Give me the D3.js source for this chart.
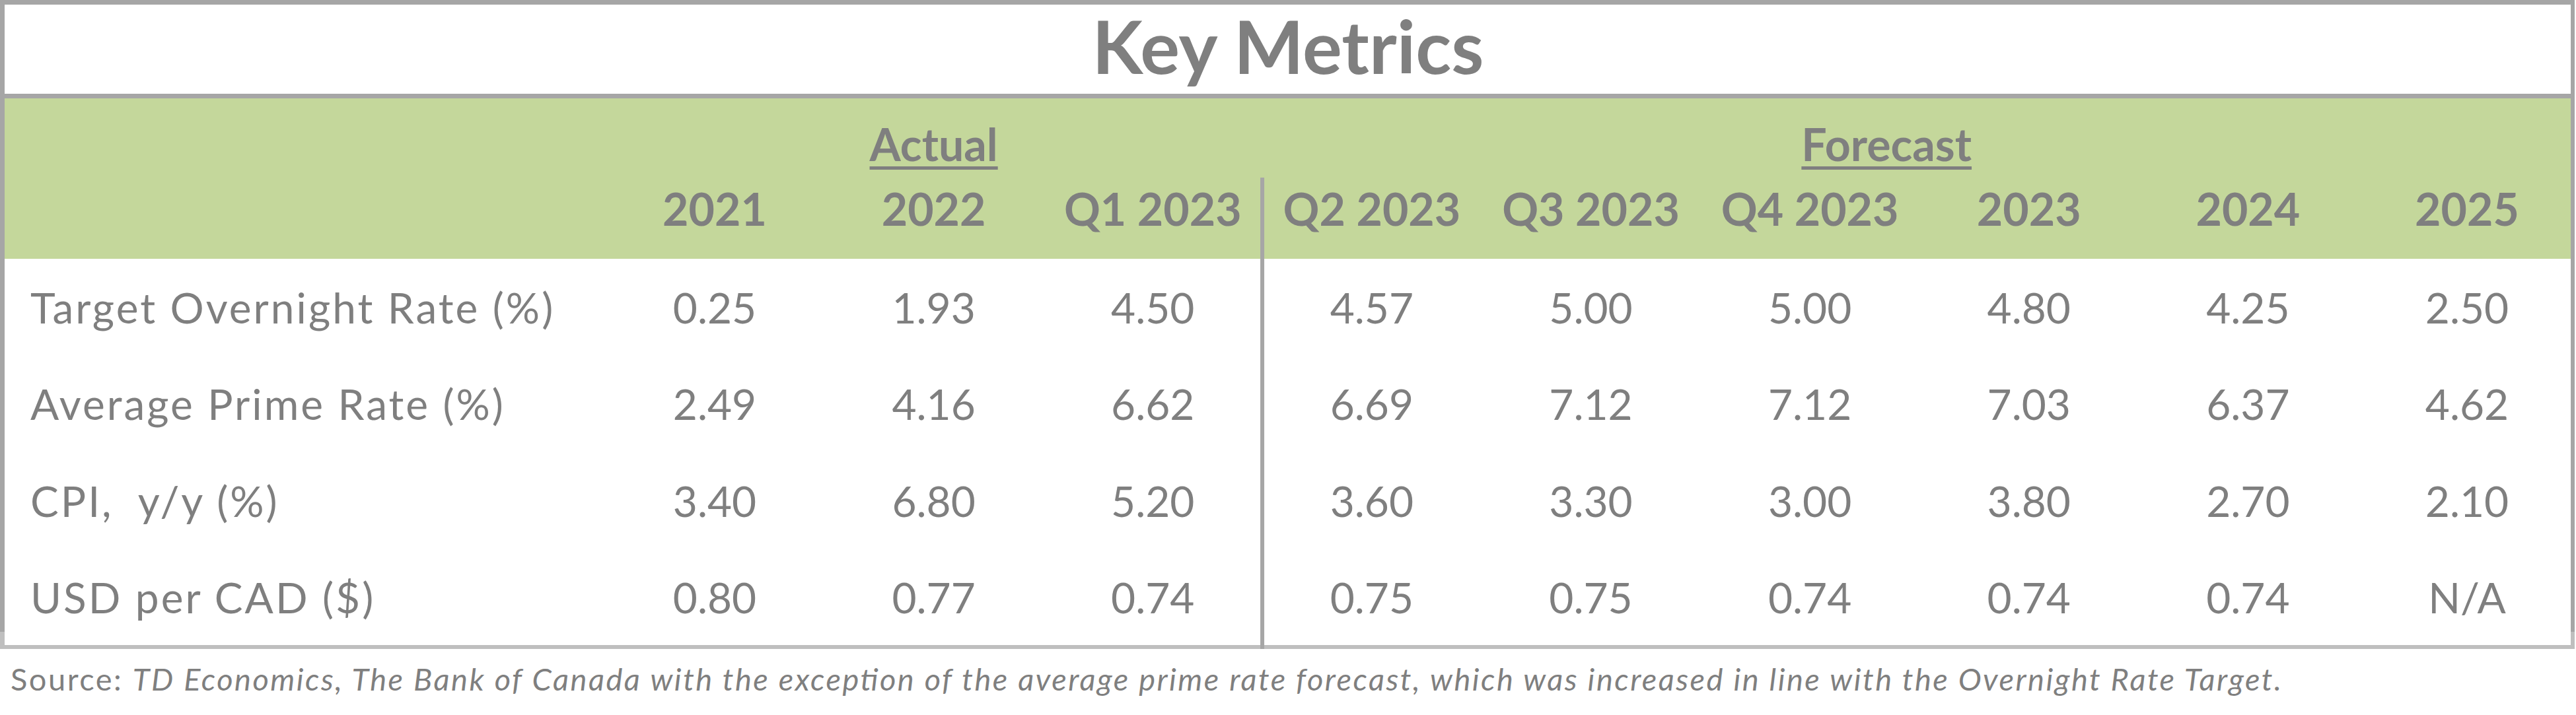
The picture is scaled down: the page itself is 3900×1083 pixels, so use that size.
<!DOCTYPE html>
<html>
<head>
<meta charset="utf-8">
<script src="https://cdn.jsdelivr.net/npm/d3@7"></script>
<style>
  body { margin: 0; background: #fff; }
  text { font-family: Lato, "Open Sans", sans-serif; fill: #7f7f7f; white-space: pre; }
</style>
</head>
<body>
<script>
const columns = ["2021", "2022", "Q1 2023", "Q2 2023", "Q3 2023", "Q4 2023", "2023", "2024", "2025"];
const metrics = ["Target Overnight Rate (%)", "Average Prime Rate (%)", "CPI,  y/y (%)", "USD per CAD ($)"];
const overnightRate = [0.25, 1.93, 4.50, 4.57, 5.00, 5.00, 4.80, 4.25, 2.50];
const primeRate = [2.49, 4.16, 6.62, 6.69, 7.12, 7.12, 7.03, 6.37, 4.62];
const cpi = [3.40, 6.80, 5.20, 3.60, 3.30, 3.00, 3.80, 2.70, 2.10];
const usdPerCad = [0.80, 0.77, 0.74, 0.75, 0.75, 0.74, 0.74, 0.74, null];
const actualCols = ["2021", "2022", "Q1 2023"];
const forecastCols = ["Q2 2023", "Q3 2023", "Q4 2023", "2023", "2024", "2025"];
const title = "Key Metrics";
const sourceLead = "Source: ";
const sourceText = "TD Economics, The Bank of Canada with the exception of the average prime rate forecast, which was increased in line with the Overnight Rate Target.";

const rows = [overnightRate, primeRate, cpi, usdPerCad];

const width = 3900;
const height = 1083;

const svg = d3.select("body").append("svg")
  .attr("width", width)
  .attr("height", height);

// column positions
const x = d3.scalePoint()
  .domain(columns)
  .range([1082, 3735]);
const step = x.step();

const y = d3.scalePoint()
  .domain(metrics)
  .range([490, 929]);

// header band
svg.append("rect")
  .attr("x", 7)
  .attr("y", 149)
  .attr("width", 3885)
  .attr("height", 243)
  .attr("fill", "#c4d79b");

// frame
svg.append("rect").attr("x", 0).attr("y", 0).attr("width", width - 2).attr("height", 7).attr("fill", "#a6a6a6");
svg.append("rect").attr("x", 0).attr("y", 142).attr("width", width - 2).attr("height", 7).attr("fill", "#a6a6a6");
svg.append("rect").attr("x", 0).attr("y", 0).attr("width", 7).attr("height", 957).attr("fill", "#a6a6a6");
svg.append("rect").attr("x", 0).attr("y", 957).attr("width", 7).attr("height", 26).attr("fill", "#bfbfbf");
svg.append("rect").attr("x", 3892).attr("y", 0).attr("width", 6).attr("height", 957).attr("fill", "#a6a6a6");
svg.append("rect").attr("x", 3892).attr("y", 957).attr("width", 6).attr("height", 26).attr("fill", "#bfbfbf");
svg.append("rect").attr("x", 0).attr("y", 977).attr("width", width - 2).attr("height", 6).attr("fill", "#bfbfbf");

// actual / forecast divider
const divX = (x(actualCols[actualCols.length - 1]) + x(forecastCols[0])) / 2;
svg.append("rect")
  .attr("x", divX - 3)
  .attr("y", 269)
  .attr("width", 6)
  .attr("height", 714)
  .attr("fill", "#a6a6a6");

// title
svg.append("text")
  .attr("x", width / 2)
  .attr("y", 112)
  .attr("text-anchor", "middle")
  .style("font-size", "112px")
  .style("font-weight", "bold")
  .text(title);

// group labels with underline
const groupLabels = [
  {label: "Actual", cx: x(actualCols[1])},
  {label: "Forecast", cx: x("Q4 2023") + step * 0.35}
];
groupLabels.forEach(g => {
  const t = svg.append("text")
    .attr("x", g.cx)
    .attr("y", 244)
    .attr("text-anchor", "middle")
    .style("font-size", "68px")
    .style("font-weight", "bold")
    .text(g.label);
  const w = t.node().getComputedTextLength();
  svg.append("rect")
    .attr("x", g.cx - w / 2)
    .attr("y", 252)
    .attr("width", w)
    .attr("height", 5)
    .attr("fill", "#7f7f7f");
});

// column headers
svg.selectAll("text.col")
  .data(columns)
  .enter()
  .append("text")
  .attr("class", "col")
  .attr("x", d => x(d))
  .attr("y", 342)
  .attr("text-anchor", "middle")
  .style("font-size", "68px")
  .style("font-weight", "bold")
  .text(d => d);

// row labels
svg.selectAll("text.metric")
  .data(metrics)
  .enter()
  .append("text")
  .attr("class", "metric")
  .attr("x", 46)
  .attr("y", d => y(d))
  .style("font-size", "64px")
  .style("letter-spacing", "3px")
  .text(d => d);

// values
rows.forEach((vals, i) => {
  svg.selectAll("text.v" + i)
    .data(vals)
    .enter()
    .append("text")
    .attr("class", "v" + i)
    .attr("x", (d, j) => x(columns[j]))
    .attr("y", y(metrics[i]))
    .attr("text-anchor", "middle")
    .style("font-size", "64px")
    .text(d => d == null ? "N/A" : d.toFixed(2));
});

// source note
const src = svg.append("text")
  .attr("x", 16)
  .attr("y", 1046)
  .attr("textLength", 3438)
  .attr("lengthAdjust", "spacing")
  .style("font-size", "47px");
src.append("tspan").text(sourceLead);
src.append("tspan").style("font-style", "italic").text(sourceText);
</script>
</body>
</html>
